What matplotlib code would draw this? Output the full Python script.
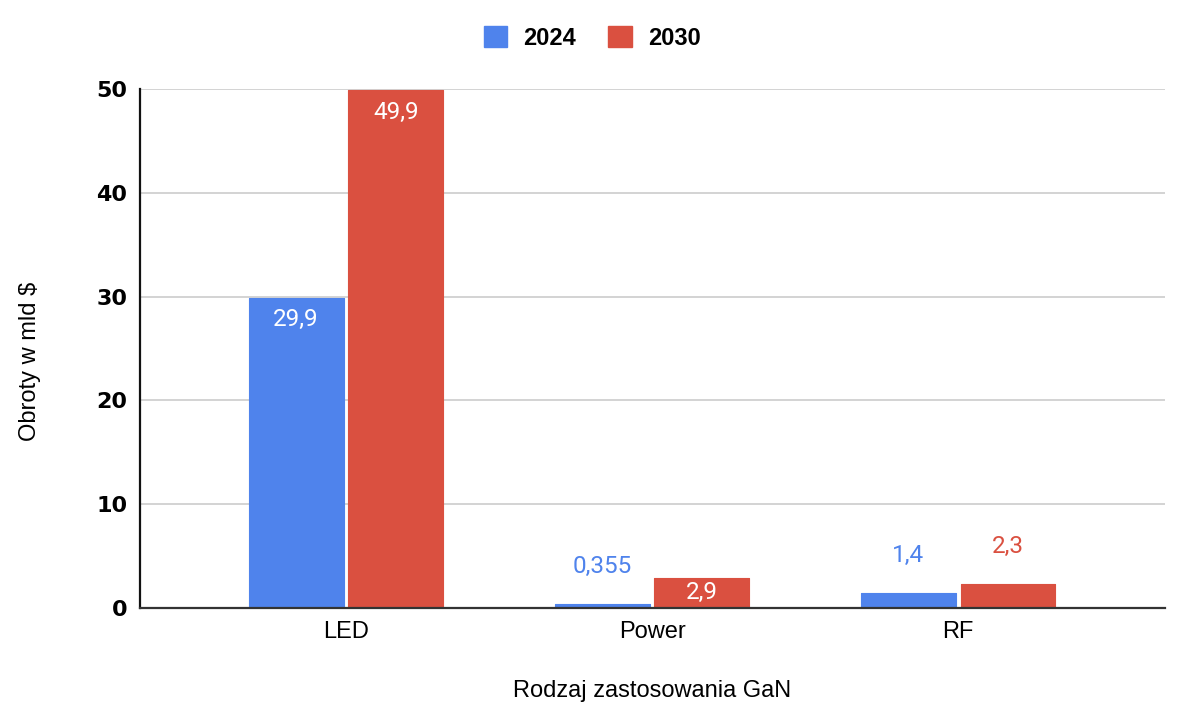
import matplotlib
matplotlib.use("Agg")
import matplotlib.pyplot as plt
import numpy as np
from matplotlib.patches import Patch

categories = ["LED", "Power", "RF"]
series_names = ["2024", "2030"]
values_2024 = [29.9, 0.355, 1.4]
values_2030 = [49.9, 2.9, 2.3]
labels_2024 = ["29,9", "0,355", "1,4"]
labels_2030 = ["49,9", "2,9", "2,3"]
yticks = [0, 10, 20, 30, 40, 50]

colors = ["#4F83EC", "#DA5040"]

fig = plt.figure(figsize=(12, 7.2), dpi=100)
ax = fig.add_axes([140/1200, 112/720, 1025/1200, 519/720])

x = np.arange(len(categories))
width = 0.31
off = 0.163

inside_threshold = 2.5
inside_offset = 2.12   # data units below bar top
outside_offset = 3.66  # data units above bar top
for vals, labs, col, sgn in [(values_2024, labels_2024, colors[0], -1),
                             (values_2030, labels_2030, colors[1], 1)]:
    bars = ax.bar(x + sgn*off, vals, width, color=col, edgecolor=col,
                  linewidth=0.8, joinstyle="round", zorder=3)
    for b, v, l in zip(bars, vals, labs):
        cx = b.get_x() + b.get_width()/2
        if v >= inside_threshold:
            ly = v - min(inside_offset, v/2)
            ax.text(cx, ly, l, ha="center", va="center", color="white",
                    fontsize=17.5, family="Roboto", zorder=5)
        else:
            ax.text(cx, v + outside_offset, l, ha="center", va="center", color=col,
                    fontsize=17.5, family="Roboto", zorder=5)

ax.set_xlim(-0.673, 2.676)
ax.set_ylim(0, 50)
ax.set_yticks(yticks)
ax.set_yticklabels([str(t) for t in yticks], fontsize=16, fontweight="bold",
                   family="DejaVu Sans")
ax.set_xticks(x)
ax.set_xticklabels(categories, fontsize=17, family="Liberation Sans")
ax.tick_params(axis="both", length=0)
ax.tick_params(axis="y", pad=9)
ax.tick_params(axis="x", pad=9)
ax.grid(axis="y", color="#CCCCCC", linewidth=1.2, zorder=0)
for s in ["top", "right"]:
    ax.spines[s].set_visible(False)
ax.spines["left"].set_color("#111111")
ax.spines["left"].set_linewidth(1.6)
ax.spines["bottom"].set_color("#333333")
ax.spines["bottom"].set_linewidth(1.6)
ax.spines["left"].set_zorder(4)
ax.spines["bottom"].set_zorder(4)

ax.set_ylabel("Obroty w mld $", fontsize=17, family="Liberation Sans", va="center")
ax.yaxis.set_label_coords(-0.107, 0.476)
ax.set_xlabel("Rodzaj zastosowania GaN", fontsize=17, family="Liberation Sans", va="center")
ax.xaxis.set_label_coords(0.5, -0.16)

handles = [Patch(facecolor=c, edgecolor=c, joinstyle="round", linewidth=1.0) for c in colors]
leg = fig.legend(handles, series_names, loc="center", bbox_to_anchor=(592/1200, 1 - 38/720),
                 ncol=2, frameon=False, handlelength=1.0, handleheight=1.0,
                 columnspacing=1.36, handletextpad=0.68,
                 prop={"family": "Liberation Sans", "weight": "bold", "size": 17})

fig.savefig("out.png", dpi=100)
